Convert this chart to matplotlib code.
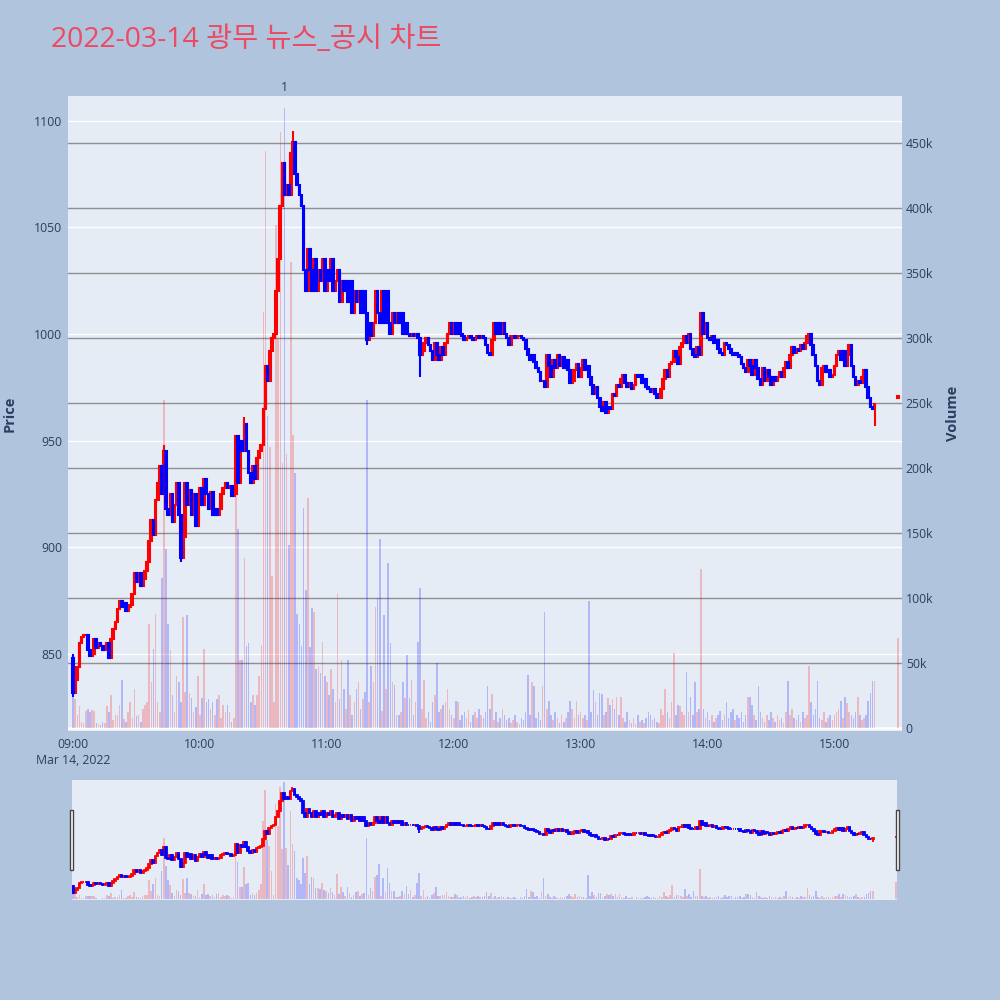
import matplotlib
matplotlib.use("Agg")
import matplotlib.pyplot as plt
from matplotlib.patches import Rectangle
from matplotlib.ticker import FuncFormatter
import numpy as np

plt.rcParams['font.family'] = ['Open Sans', 'Noto Sans CJK KR', 'DejaVu Sans']

# 1-minute candles, 09:00 .. 15:19 (minute index from 09:00)
first_open = 848
closes = [
    832, 838, 844, 855, 858, 859, 859, 852, 849, 850,
    857, 853, 855, 854, 852, 853, 855, 848, 857, 862,
    865, 871, 875, 872, 874, 870, 872, 873, 878, 888,
    884, 888, 882, 885, 889, 893, 903, 913, 906, 922,
    930, 938, 925, 945, 918, 915, 925, 912, 920, 930,
    915, 895, 905, 930, 920, 927, 915, 925, 910, 920,
    928, 920, 932, 925, 918, 926, 915, 918, 915, 918,
    925, 928, 930, 928, 929, 924, 925, 952, 930, 950,
    945, 958, 945, 935, 930, 938, 932, 942, 945, 948,
    965, 985, 978, 992, 998, 1000, 1020, 1035, 1060, 1080,
    1065, 1070, 1065, 1085, 1090, 1075, 1070, 1065, 1060, 1030,
    1020, 1040, 1030, 1020, 1035, 1020, 1030, 1025, 1035, 1020,
    1030, 1025, 1035, 1020, 1025, 1030, 1015, 1025, 1020, 1025,
    1015, 1025, 1010, 1020, 1015, 1020, 1010, 1020, 1010, 997,
    1005, 999, 1005, 1020, 1010, 1005, 1020, 1005, 1020, 1005,
    1000, 1010, 1005, 1010, 1005, 1010, 1000, 1005, 1000, 999,
    1000, 999, 1000, 998, 990, 992, 996, 998, 995, 992,
    988, 996, 990, 988, 994, 990, 996, 1000, 1005, 1000,
    1005, 1000, 1005, 1000, 999, 997, 998, 999, 998, 997,
    998, 999, 998, 999, 998, 995, 991, 990, 997, 1005,
    1000, 1005, 1000, 1005, 1000, 998, 995, 999, 999, 998,
    999, 999, 998, 997, 993, 990, 988, 990, 987, 984,
    982, 978, 978, 975, 990, 985, 980, 988, 984, 990,
    985, 989, 984, 988, 983, 977, 978, 983, 986, 980,
    984, 988, 983, 985, 980, 976, 972, 975, 970, 966,
    964, 968, 963, 966, 965, 972, 971, 976, 975, 979,
    981, 977, 975, 977, 974, 976, 981, 980, 981, 977,
    979, 975, 974, 973, 974, 972, 970, 970, 974, 979,
    983, 980, 986, 987, 992, 989, 986, 994, 996, 999,
    996, 1000, 993, 990, 989, 994, 990, 1010, 1000, 1005,
    998, 997, 999, 996, 997, 993, 991, 990, 996, 995,
    993, 991, 990, 991, 990, 989, 986, 984, 982, 988,
    985, 981, 988, 984, 979, 976, 984, 978, 983, 980,
    976, 980, 978, 980, 982, 980, 984, 987, 984, 990,
    994, 991, 993, 992, 995, 993, 996, 999, 1000, 995,
    990, 985, 978, 976, 984, 985, 982, 983, 980, 981,
    985, 990, 992, 988, 992, 985, 990, 995, 985, 980,
    976, 978, 977, 980, 983, 975, 970, 966, 965, 967,
]
wick_high = {0: 850, 43: 948, 81: 961, 104: 1095, 297: 1010}
wick_low = {0: 830, 51: 893, 139: 995, 164: 980, 379: 957}

# volume in thousands of shares
volume_k = [
    25, 22, 10, 17, 5, 4, 13, 15, 12, 14,
    13, 4, 3, 2, 5, 4, 17, 12, 25, 6,
    10, 10, 18, 37, 7, 5, 12, 20, 8, 30,
    9, 10, 5, 15, 18, 20, 80, 35, 61, 88,
    20, 12, 115, 252, 138, 80, 60, 25, 12, 40,
    35, 20, 85, 28, 87, 27, 23, 12, 16, 40,
    10, 23, 61, 20, 22, 15, 20, 10, 22, 25,
    8, 18, 12, 18, 12, 5, 8, 178, 153, 52,
    52, 131, 63, 65, 20, 25, 18, 25, 40, 64,
    320, 444, 240, 216, 117, 20, 387, 300, 458, 204,
    477, 211, 141, 358, 225, 196, 88, 80, 63, 169,
    106, 177, 62, 92, 89, 45, 48, 42, 66, 40,
    35, 25, 45, 30, 20, 103, 22, 52, 30, 15,
    52, 25, 10, 20, 30, 35, 15, 22, 28, 252,
    20, 48, 35, 93, 100, 145, 13, 87, 30, 127,
    65, 35, 33, 10, 10, 12, 35, 23, 56, 23,
    37, 10, 20, 66, 108, 15, 37, 8, 12, 5,
    20, 25, 50, 12, 15, 18, 20, 30, 15, 10,
    8, 21, 20, 6, 10, 12, 8, 14, 5, 10,
    12, 8, 15, 10, 8, 12, 32, 15, 26, 6,
    12, 5, 8, 15, 10, 6, 8, 4, 6, 10,
    5, 3, 8, 6, 12, 41, 10, 35, 32, 8,
    12, 6, 32, 89, 15, 21, 10, 6, 12, 8,
    4, 10, 5, 8, 12, 21, 15, 8, 21, 10,
    12, 8, 10, 6, 98, 12, 29, 20, 10, 27,
    26, 10, 12, 23, 18, 22, 15, 24, 10, 24,
    8, 5, 12, 6, 4, 8, 3, 10, 5, 6,
    4, 8, 12, 10, 6, 8, 5, 4, 15, 10,
    30, 12, 8, 20, 58, 10, 18, 17, 12, 10,
    43, 12, 24, 10, 35, 12, 15, 122, 15, 8,
    12, 6, 10, 5, 8, 10, 13, 6, 10, 20,
    8, 12, 15, 6, 10, 8, 12, 5, 10, 24,
    24, 18, 10, 6, 32, 12, 8, 5, 10, 6,
    12, 8, 5, 10, 6, 8, 4, 12, 36, 10,
    15, 8, 6, 10, 5, 12, 8, 10, 48, 20,
    10, 15, 36, 8, 6, 12, 5, 8, 10, 6,
    10, 12, 15, 21, 8, 24, 19, 12, 10, 8,
    12, 24, 10, 6, 8, 10, 21, 27, 36, 36,
]

# closing auction at 15:30
auction_minute = 390
auction_open = 970
auction_close = 971
auction_volume_k = 69

news_minute = 100
news_label = "1"

tick_minutes = [0, 60, 120, 180, 240, 300, 360]
tick_labels = ["09:00\nMar 14, 2022", "10:00", "11:00", "12:00", "13:00", "14:00", "15:00"]
price_ticks = [850, 900, 950, 1000, 1050, 1100]
volume_ticks = [0, 50000, 100000, 150000, 200000, 250000, 300000, 350000, 400000, 450000]

# assemble
minutes = np.array(list(range(len(closes))) + [auction_minute])
opens = np.array([first_open] + closes[:-1] + [auction_open], dtype=float)
cls = np.array(closes + [auction_close], dtype=float)
highs = np.maximum(opens, cls)
lows = np.minimum(opens, cls)
for k, v in wick_high.items():
    highs[k] = v
for k, v in wick_low.items():
    lows[k] = v
vol = np.array(volume_k + [auction_volume_k]) * 1000
up = cls >= opens

RED = "#ff0000"
BLUE = "#0000ff"
BG = "#E5ECF6"
FIG_BG = "#B0C4DE"
TXT = "#2a3f5f"


def draw_candles(ax, lw, body):
    for mask, col in ((up, RED), (~up, BLUE)):
        ax.vlines(minutes[mask], lows[mask], highs[mask], color=col, linewidth=lw, zorder=3)
        ax.bar(minutes[mask], cls[mask] - opens[mask], bottom=opens[mask], width=body,
               color=col, edgecolor=col, linewidth=lw, zorder=3)


def draw_volume(ax):
    ax.bar(minutes[up], vol[up], width=0.75, color=RED, alpha=0.22, linewidth=0)
    ax.bar(minutes[~up], vol[~up], width=0.75, color=BLUE, alpha=0.22, linewidth=0)


fig = plt.figure(figsize=(10, 10), dpi=100, facecolor=FIG_BG)
pos = [0.068, 0.269, 0.8337, 0.635]

ax_v = fig.add_axes(pos, facecolor=BG)
ax_p = fig.add_axes(pos, sharex=ax_v)
ax_b = fig.add_axes(pos, sharex=ax_v, sharey=ax_v)
ax_v.set_zorder(1)
ax_p.set_zorder(2)
ax_b.set_zorder(3)
ax_p.patch.set_visible(False)
ax_b.patch.set_visible(False)

# volume axis (right, gray grid)
ax_v.set_ylim(-2300, 486000)
ax_v.set_yticks(volume_ticks)
ax_v.yaxis.set_major_formatter(FuncFormatter(lambda v, p: "0" if v == 0 else f"{int(v / 1000)}k"))
ax_v.yaxis.tick_right()
ax_v.yaxis.set_label_position("right")
ax_v.grid(axis="y", color="#8f8f8f", linewidth=1)
ax_v.axhline(0, color="white", linewidth=2)
ax_v.set_ylabel("Volume", color=TXT, fontsize=10.5, fontweight="bold", va="center")
ax_v.yaxis.set_label_coords(1.0615, 0.5)
ax_v.set_xlim(-2.4, 391.8)
ax_v.set_xticks(tick_minutes)
ax_v.set_xticklabels(tick_labels, linespacing=1.35)

# price axis (left, white grid)
ax_p.set_ylim(814, 1111.5)
ax_p.set_yticks(price_ticks)
ax_p.grid(axis="y", color="white", linewidth=1)
ax_p.set_axisbelow(True)
ax_p.set_ylabel("Price", color=TXT, fontsize=10.5, fontweight="bold", va="center")
ax_p.yaxis.set_label_coords(-0.0696, 0.5)
ax_p.tick_params(labelbottom=False)
draw_candles(ax_p, 1.5, 0.8)

# volume bars over candles
draw_volume(ax_b)
ax_b.axis("off")

for a in (ax_v, ax_p, ax_b):
    for s in a.spines.values():
        s.set_visible(False)
    a.tick_params(length=0, labelsize=8.8, colors=TXT)
ax_v.tick_params(axis="y", pad=3)
ax_v.tick_params(axis="x", pad=5)
ax_p.tick_params(axis="y", pad=4)

ax_p.text(news_minute, 1.003, news_label, transform=ax_p.get_xaxis_transform(),
          ha="center", va="bottom", fontsize=8.8, color=TXT)

fig.text(0.051, 0.96, "2022-03-14 광무 뉴스_공시 차트", fontsize=20.4, color="#EB4A60",
         ha="left", va="center")

# range slider
ax_s = fig.add_axes([0.072, 0.100, 0.825, 0.12], facecolor=BG)
ax_s2 = ax_s.twinx()
ax_s.set_xlim(-0.5, 390.5)
ax_s.set_ylim(814, 1111.5)
ax_s2.set_ylim(-2300, 486000)
draw_candles(ax_s, 1.3, 0.8)
draw_volume(ax_s2)
for a in (ax_s, ax_s2):
    a.set_xticks([])
    a.set_yticks([])
    for s in a.spines.values():
        s.set_visible(False)

for hx in (0.0695, 0.8955):
    fig.patches.append(Rectangle((hx, 0.130), 0.0035, 0.060, transform=fig.transFigure,
                                 facecolor="white", edgecolor="#444444", linewidth=1))

fig.savefig("out.png", dpi=100, facecolor=FIG_BG)
